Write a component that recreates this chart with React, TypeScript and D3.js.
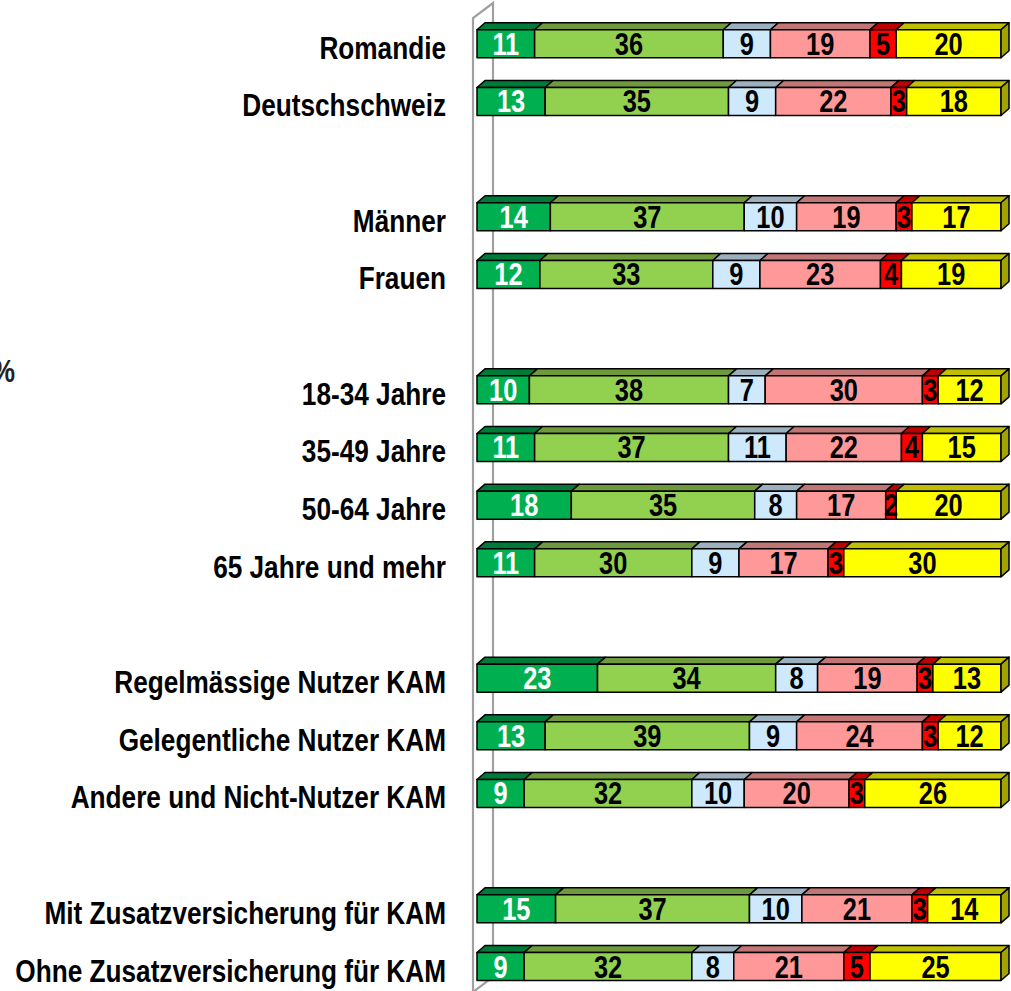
import React from 'react';
import * as d3 from 'd3';

// row labels and their slot index (gaps between groups)
const categories = [
  'Romandie', 'Deutschschweiz',
  'Männer', 'Frauen',
  '18-34 Jahre', '35-49 Jahre', '50-64 Jahre', '65 Jahre und mehr',
  'Regelmässige Nutzer KAM', 'Gelegentliche Nutzer KAM', 'Andere und Nicht-Nutzer KAM',
  'Mit Zusatzversicherung für KAM', 'Ohne Zusatzversicherung für KAM',
];
const slots = [0, 1, 3, 4, 6, 7, 8, 9, 11, 12, 13, 15, 16];

// series values (%), one entry per category
const series1 = [11, 13, 14, 12, 10, 11, 18, 11, 23, 13, 9, 15, 9];
const series2 = [36, 35, 37, 33, 38, 37, 35, 30, 34, 39, 32, 37, 32];
const series3 = [9, 9, 10, 9, 7, 11, 8, 9, 8, 9, 10, 10, 8];
const series4 = [19, 22, 19, 23, 30, 22, 17, 17, 19, 24, 20, 21, 21];
const series5 = [5, 3, 3, 4, 3, 4, 2, 3, 3, 3, 3, 3, 5];
const series6 = [20, 18, 17, 19, 12, 15, 20, 30, 13, 12, 26, 14, 25];

const allSeries = [series1, series2, series3, series4, series5, series6];
const frontColors = ['#00B050', '#92D050', '#CDE9FB', '#FF9999', '#FF0000', '#FFFF00'];
const topColors = ['#007A38', '#6E9A3C', '#9CAFBE', '#C27575', '#BF0000', '#BFBF00'];
const textColors = ['#FFFFFF', '#000000', '#000000', '#000000', '#000000', '#000000'];
const sideColor = '#A3A300';

const W = 1011;
const H = 991;
const DX = 8;
const DY = 7;
const BAR_H = 28;
const FONT = "'Liberation Sans', Arial, sans-serif";
const LABEL_SQUEEZE = 0.845;
const NUM_SQUEEZE = 0.82;

export default function App() {
  const x = d3.scaleLinear().domain([0, 100]).range([477, 1001]);
  const y = d3.scaleLinear().domain([0, 16]).range([43.8, 966.5]);

  const rows = categories.map((name, i) => {
    const vals = allSeries.map(s => s[i]);
    const stack = d3.cumsum(vals);
    const segs = vals.map((v, k) => ({ v, k, x0: stack[k] - v, x1: stack[k] }));
    return { name, cy: y(slots[i]), segs };
  });

  const wallTop = 18;
  const wallBottom = 992;

  return (
    <svg width={W} height={H} style={{ position: 'absolute', left: 0, top: 0, background: '#fff' }}>
      {/* back wall */}
      <g fill="none" stroke="#A0A0A0" strokeWidth={2.2}>
        <path d={`M473,${wallBottom + 10} L473,${wallTop} L493,${wallTop - 15} L493,${wallBottom - 15} L473,${wallBottom}`} />
      </g>

      {/* percent sign, partly cut off as in the source */}
      <g transform={`translate(15,382) scale(${LABEL_SQUEEZE},1)`}>
        <text textAnchor="end" fontFamily={FONT} fontWeight="bold" fontSize={31} fill="#222">%</text>
      </g>

      {rows.map(row => {
        const top = row.cy - BAR_H / 2;
        const bot = row.cy + BAR_H / 2;
        const last = row.segs[row.segs.length - 1];
        return (
          <g key={row.name}>
            <g transform={`translate(446,${row.cy + 15}) scale(${LABEL_SQUEEZE},1)`}>
              <text textAnchor="end" fontFamily={FONT} fontWeight="bold" fontSize={31} fill="#000">{row.name}</text>
            </g>
            {row.segs.map(s => {
              const a = x(s.x0);
              const b = x(s.x1);
              return (
                <g key={s.k} stroke="#000" strokeWidth={1.5} strokeLinejoin="round">
                  <path
                    d={`M${a},${top} L${a + DX},${top - DY} L${b + DX},${top - DY} L${b},${top} Z`}
                    fill={topColors[s.k]}
                  />
                  <rect x={a} y={top} width={b - a} height={BAR_H} fill={frontColors[s.k]} />
                </g>
              );
            })}
            <path
              d={`M${x(last.x1)},${top} L${x(last.x1) + DX},${top - DY} L${x(last.x1) + DX},${bot - DY} L${x(last.x1)},${bot} Z`}
              fill={sideColor}
              stroke="#000"
              strokeWidth={1.5}
              strokeLinejoin="round"
            />
            {row.segs.map(s => (
              <g key={'t' + s.k} transform={`translate(${(x(s.x0) + x(s.x1)) / 2},${row.cy + 11}) scale(${NUM_SQUEEZE},1)`}>
                <text textAnchor="middle" fontFamily={FONT} fontWeight="bold" fontSize={31} fill={textColors[s.k]}>{s.v}</text>
              </g>
            ))}
          </g>
        );
      })}
    </svg>
  );
}
